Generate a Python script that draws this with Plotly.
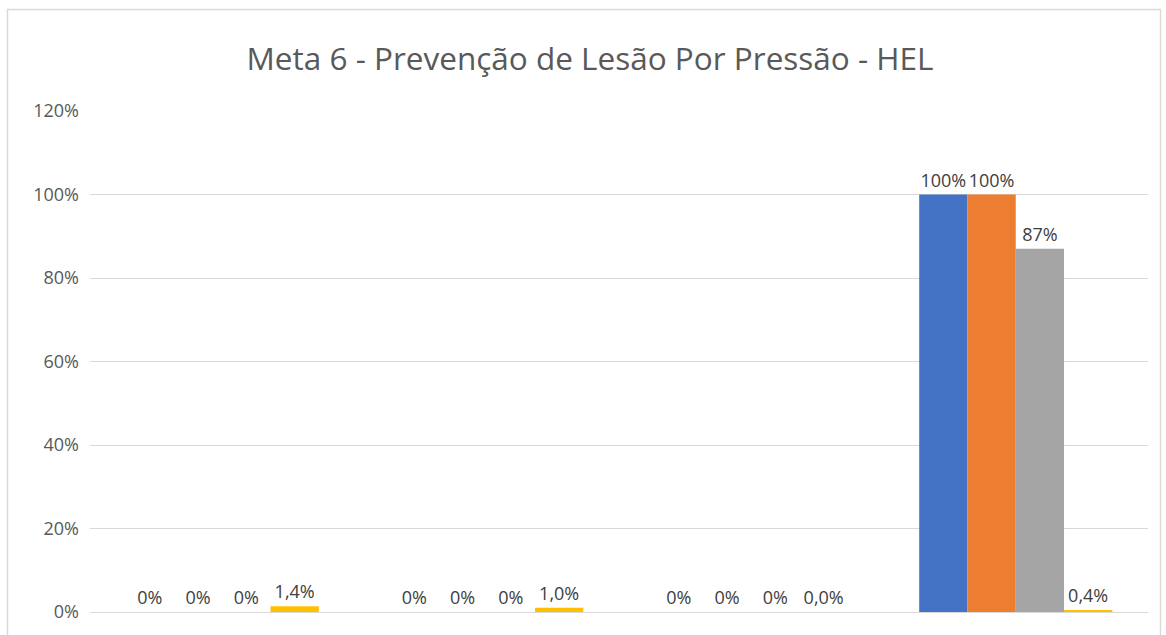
import plotly.graph_objects as go

categories = ["Cat 1", "Cat 2", "Cat 3", "Cat 4"]
series_names = ["Série 1", "Série 2", "Série 3", "Série 4"]
s1 = [0.0, 0.0, 0.0, 1.00]
s2 = [0.0, 0.0, 0.0, 1.00]
s3 = [0.0, 0.0, 0.0, 0.87]
s4 = [0.014, 0.010, 0.000, 0.004]
colors = ["#4472C4", "#ED7D31", "#A5A5A5", "#FFC000"]
y_ticks = [0, 0.2, 0.4, 0.6, 0.8, 1.0, 1.2]
y_tick_labels = ["0%", "20%", "40%", "60%", "80%", "100%", "120%"]
title_text = "Meta 6 - Prevenção de Lesão Por Pressão - HEL"


def pct0(v):
    return f"{v * 100:.0f}%"


def pct1(v):
    return f"{v * 100:.1f}%".replace(".", ",")


fig = go.Figure()
for name, vals, col, fmt in zip(series_names, [s1, s2, s3, s4], colors, [pct0, pct0, pct0, pct1]):
    fig.add_trace(go.Bar(
        x=categories, y=vals, name=name, marker_color=col, marker_line_width=0,
        text=[fmt(v) for v in vals], textposition="outside", cliponaxis=False,
        constraintext="none",
        textfont=dict(family="Open Sans, sans-serif", size=18, color="#404040"),
    ))

W, H = 1166, 635
L, R, T, B = 90, 18, 111, 18
pw = W - L - R
ph = H - T - B

fig.update_layout(
    width=W, height=H,
    margin=dict(l=L, r=R, t=T, b=B),
    paper_bgcolor="white", plot_bgcolor="white",
    barmode="group", bargap=0.27, bargroupgap=0,
    showlegend=False,
    title=dict(text=title_text, x=590 / W, xref="container", xanchor="center",
               y=1 - 58.5 / H, yanchor="middle",
               font=dict(family="Open Sans, sans-serif", size=31.5, color="#595959")),
    xaxis=dict(showticklabels=False, showgrid=False, zeroline=False, showline=False, ticks=""),
    yaxis=dict(range=[0, 1.2], tickvals=y_ticks, ticktext=y_tick_labels,
               showgrid=True, gridcolor="#D9D9D9", gridwidth=1,
               zeroline=True, zerolinecolor="#D9D9D9", zerolinewidth=1,
               showline=False, ticks="", ticklabelstandoff=10,
               tickfont=dict(family="Open Sans, sans-serif", size=18, color="#595959")),
    shapes=[dict(type="rect", xref="paper", yref="paper",
                 x0=(7.5 - L) / pw, x1=(1160.5 - L) / pw,
                 y0=(H - B - 660) / ph, y1=(H - B - 8.5) / ph,
                 line=dict(color="#D9D9D9", width=1.5), fillcolor="rgba(0,0,0,0)",
                 layer="below")],
)

post = (
    "var d=document.documentElement,b=document.body;"
    "d.style.margin='0';d.style.padding='0';d.style.overflow='hidden';d.style.height='635px';"
    "b.style.margin='0';b.style.padding='0';b.style.overflow='hidden';b.style.height='635px';"
)
fig.write_html("out.html", config={"displayModeBar": False}, post_script=post)
